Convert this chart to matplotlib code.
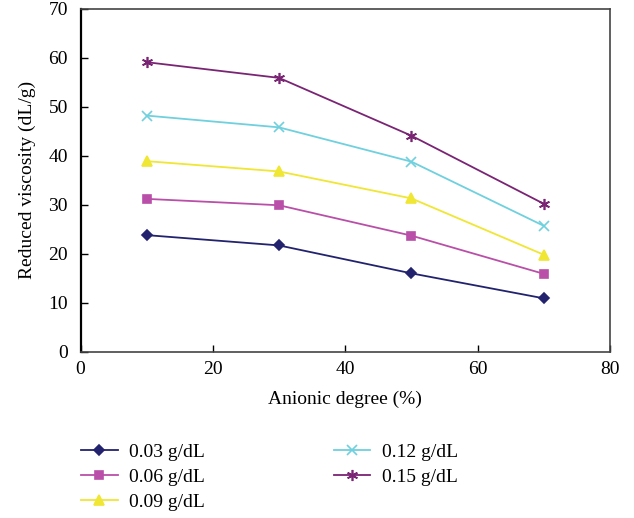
import matplotlib
matplotlib.use("Agg")
import matplotlib.pyplot as plt

plt.rcParams['font.family'] = ['Liberation Serif', 'DejaVu Serif']

anionic = [10, 30, 50, 70]
c003 = [23.8, 21.7, 16.0, 10.9]
c006 = [31.2, 29.9, 23.7, 15.9]
c009 = [38.9, 36.8, 31.3, 19.8]
c012 = [48.2, 45.8, 38.8, 25.7]
c015 = [59.1, 55.9, 44.1, 30.2]

labels = ['0.03 g/dL', '0.06 g/dL', '0.09 g/dL', '0.12 g/dL', '0.15 g/dL']
colors = ['#22226e', '#b94fa8', '#f0e634', '#6fd0de', '#7a2474']
markers = ['D', 's', '^', 'x', (6, 2, 0)]
msizes = [5, 6, 7, 7, 8]

fig = plt.figure(figsize=(6.34, 5.18), dpi=100)
ax = fig.add_axes([0.127, 0.321, 0.835, 0.662])

for ys, lab, col, mk, ms in zip([c003, c006, c009, c012, c015], labels, colors, markers, msizes):
    ax.plot(anionic, ys, color=col, marker=mk, markersize=ms, linewidth=1.3,
            markeredgewidth=1.2, label=lab)

ax.set_xlim(0, 80)
ax.set_ylim(0, 70)
ax.set_xticks(range(0, 81, 20))
ax.set_yticks(range(0, 71, 10))
ax.tick_params(direction='in', length=5, labelsize=14, width=1)
ax.tick_params(axis='x', pad=7)
ax.tick_params(axis='y', pad=9)
ax.set_xlabel('Anionic degree (%)', fontsize=14, labelpad=9)
ax.set_ylabel('Reduced viscosity (dL/g)', fontsize=14, labelpad=9)

ax.spines['left'].set_linewidth(1.6)
ax.spines['left'].set_color('black')
for s in ['bottom', 'top', 'right']:
    ax.spines[s].set_linewidth(1.2)
    ax.spines[s].set_color('#444444')

fig.legend(loc='upper left', bbox_to_anchor=(0.115, 0.16), ncol=2, frameon=False,
           fontsize=14, handlelength=1.9, columnspacing=6.6, labelspacing=0.38,
           handletextpad=0.6, borderaxespad=0)

fig.savefig('out.png', dpi=100)
